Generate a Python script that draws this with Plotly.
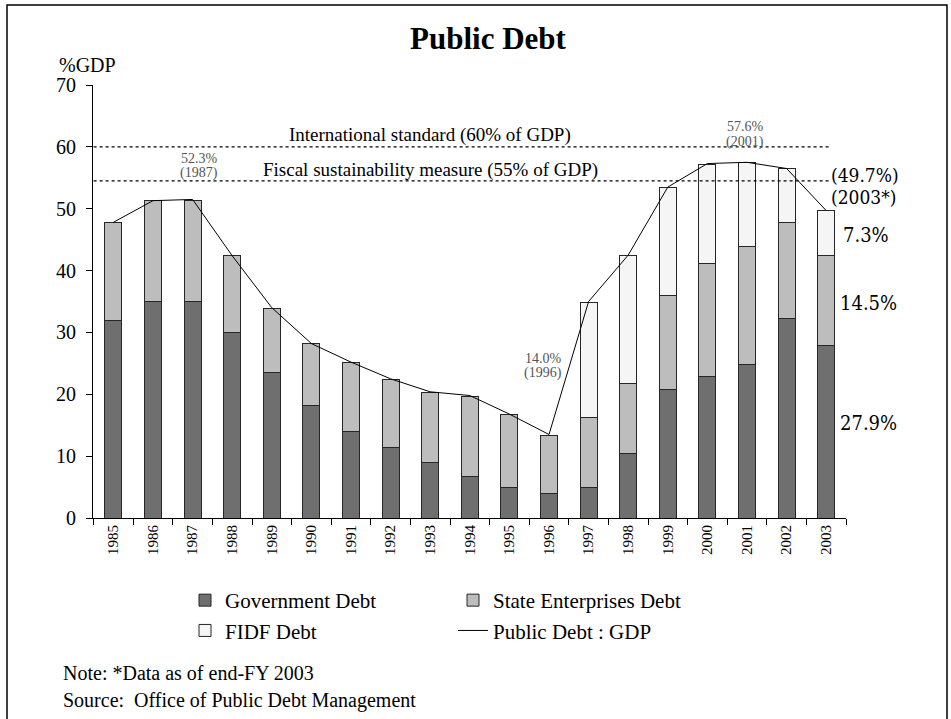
import plotly.graph_objects as go

# data (% of GDP)
years = [str(y) for y in range(1985, 2004)]
gov_debt = [32.0, 35.0, 35.0, 30.0, 23.6, 18.2, 14.0, 11.4, 8.9, 6.7,
            4.9, 3.9, 5.0, 10.5, 20.8, 22.8, 24.8, 32.3, 27.9]
state_ent_debt = [15.8, 16.3, 16.4, 12.4, 10.3, 10.0, 11.2, 11.0, 11.4, 13.0,
                  11.9, 9.5, 11.3, 11.3, 15.1, 18.4, 19.1, 15.4, 14.5]
fidf_debt = [0, 0, 0, 0, 0, 0, 0, 0, 0, 0,
             0, 0, 18.6, 20.7, 17.5, 16.0, 13.6, 8.8, 7.3]
debt_to_gdp = [47.8, 51.3, 51.5, 42.4, 34.0, 28.2, 25.2, 22.5, 20.4, 19.8,
               16.8, 13.5, 35.0, 42.5, 53.5, 57.3, 57.5, 56.5, 49.7]

serif = "Liberation Serif, Times New Roman, serif"
narrow = "DejaVu Serif Condensed, Liberation Serif, serif"
edge = dict(color="#262626", width=1)

fig = go.Figure()
fig.add_trace(go.Bar(x=years, y=gov_debt, name="Government Debt", width=0.43,
                     marker=dict(color="#6f6f6f", line=edge), legend="legend"))
fig.add_trace(go.Bar(x=years, y=state_ent_debt, name="State Enterprises Debt", width=0.43,
                     marker=dict(color="#bdbdbd", line=edge), legend="legend2"))
fig.add_trace(go.Bar(x=years, y=fidf_debt, name="FIDF Debt", width=0.43,
                     marker=dict(color="#f5f5f5", line=edge), legend="legend"))
fig.add_trace(go.Scatter(x=years, y=debt_to_gdp, name="Public Debt : GDP", mode="lines",
                         line=dict(color="black", width=1), legend="legend2"))

# reference lines
for yv in (60, 54.5):
    fig.add_shape(type="line", xref="x", yref="y", x0=-0.5, x1=18.1, y0=yv, y1=yv,
                  line=dict(color="black", width=1.2, dash="dot"))

# outer frame
W, H = 951, 719
L, R, T, B = 93, 105, 85, 201
pw, ph = W - L - R, H - T - B

def px(x, y):
    return (x - L) / pw, (H - B - y) / ph

fx0, fy1 = px(7, 5)
fx1, fy0 = px(947, 725)
fig.add_shape(type="rect", xref="paper", yref="paper", x0=fx0, x1=fx1, y0=fy0, y1=fy1,
              line=dict(color="black", width=1.5))

ann = []
def txt(x, y, s, size, color="black", anchor="center", family=serif):
    ax, ay = px(x, y)
    ann.append(dict(x=ax, y=ay, xref="paper", yref="paper", text=s, showarrow=False,
                    xanchor=anchor, yanchor="middle",
                    font=dict(family=family, size=size, color=color)))

txt(430, 135, "International standard (60% of GDP)", 19)
txt(430, 170, "Fiscal sustainability measure (55% of GDP)", 19)
txt(199, 158, "52.3%", 14, "#555555")
txt(199, 173, "(1987)", 14, "#555555")
txt(543, 358, "14.0%", 14, "#555555")
txt(543, 373, "(1996)", 14, "#555555")
txt(745, 126, "57.6%", 14, "#555555")
txt(745, 142, "(2001)", 14, "#555555")
txt(829, 175, "(49.7%)", 19, anchor="left", family=narrow)
txt(829, 197, "(2003*)", 19, anchor="left", family=narrow)
txt(841, 235, "7.3%", 20, anchor="left", family=narrow)
txt(838, 303, "14.5%", 20, anchor="left", family=narrow)
txt(838, 423, "27.9%", 20, anchor="left", family=narrow)
txt(57, 65, "%GDP", 20, anchor="left")
txt(61, 673, "Note: *Data as of end-FY 2003", 20, anchor="left")
txt(61, 700, "Source:  Office of Public Debt Management", 20, anchor="left")

leg_font = dict(family=serif, size=21)
fig.update_layout(
    width=W, height=H,
    margin=dict(l=L, r=R, t=T, b=B, autoexpand=False),
    barmode="stack",
    paper_bgcolor="white", plot_bgcolor="white",
    font=dict(family=serif, size=15, color="black"),
    title=dict(text="<b>Public Debt</b>", x=px(488, 0)[0], xref="paper", xanchor="center",
               y=1 - 38 / H, yanchor="middle",
               font=dict(family=serif, size=31, color="black")),
    annotations=ann,
    legend=dict(x=px(185, 0)[0], y=px(0, 580)[1], xanchor="left", yanchor="top",
                traceorder="normal", font=leg_font, tracegroupgap=0,
                bgcolor="rgba(0,0,0,0)"),
    legend2=dict(x=px(453, 0)[0], y=px(0, 580)[1], xanchor="left", yanchor="top",
                 traceorder="normal", font=leg_font, tracegroupgap=0,
                 bgcolor="rgba(0,0,0,0)"),
)
fig.update_xaxes(type="category", tickangle=-90, showline=True, linecolor="black",
                 ticks="outside", tickson="boundaries", ticklen=6, tickcolor="black",
                 showgrid=False, tickfont=dict(family=serif, size=15))
fig.update_yaxes(range=[0, 70], dtick=10, showline=True, linecolor="black",
                 ticks="outside", ticklen=6, tickcolor="black", showgrid=False, zeroline=False,
                 ticklabelstandoff=6, tickfont=dict(family=serif, size=20))

fig.write_html("out.html", config=dict(displayModeBar=False),
               post_script="document.body.style.margin='0px';")
